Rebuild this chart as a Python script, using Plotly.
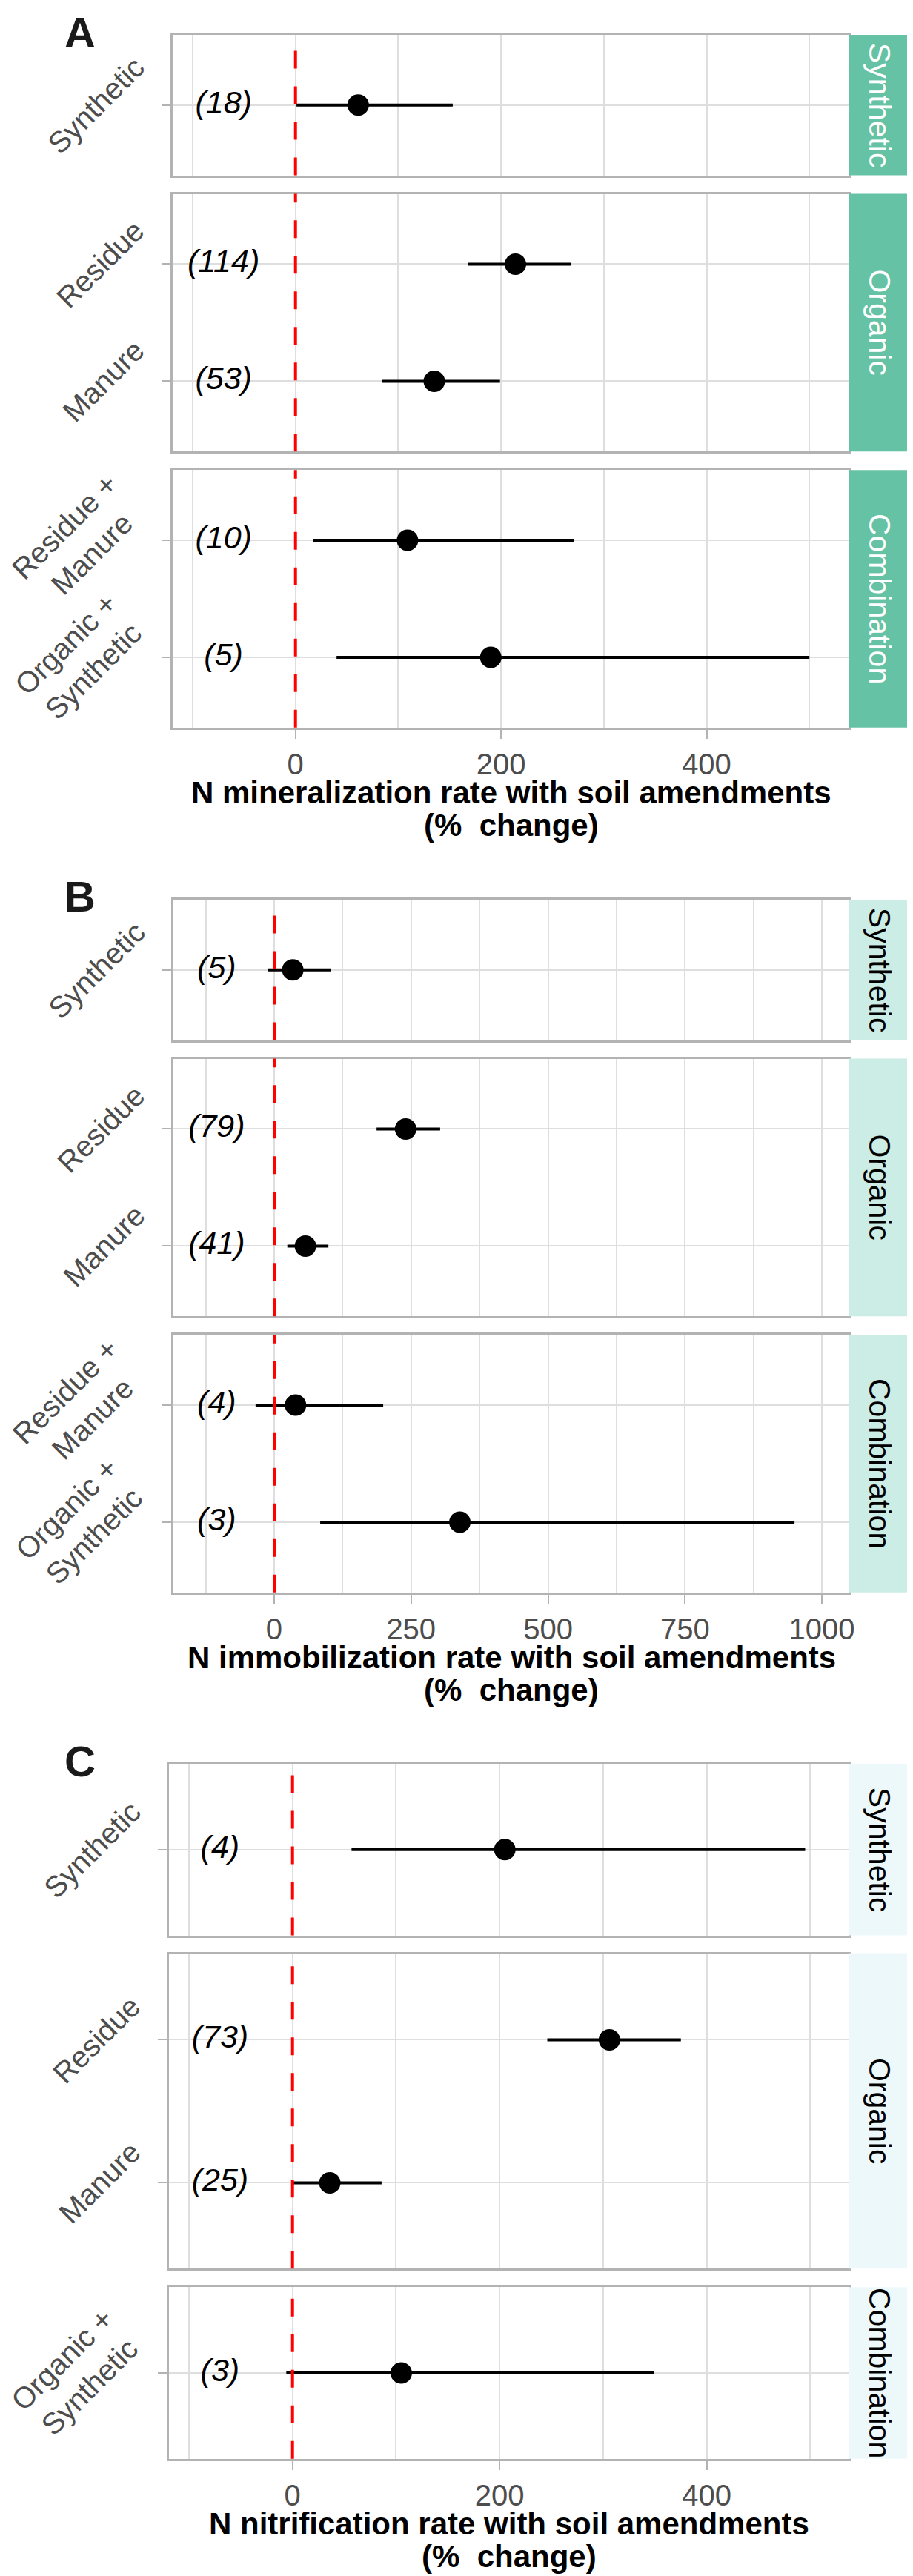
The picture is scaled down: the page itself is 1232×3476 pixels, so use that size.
import plotly.graph_objects as go

# ---- data ----
facet_order = ["Synthetic", "Organic", "Combination"]

# A: N mineralization
min_group = ["Synthetic", "Organic", "Organic", "Combination", "Combination"]
min_type = ["Synthetic", "Residue", "Manure", "Residue +<br>Manure", "Organic +<br>Synthetic"]
min_est = [61, 214, 135, 109, 190]
min_lo = [1, 168, 84, 17, 40]
min_hi = [153, 268, 199, 271, 500]
min_n = [18, 114, 53, 10, 5]

# B: N immobilization
imm_group = ["Synthetic", "Organic", "Organic", "Combination", "Combination"]
imm_type = ["Synthetic", "Residue", "Manure", "Residue +<br>Manure", "Organic +<br>Synthetic"]
imm_est = [34, 240, 57, 39, 339]
imm_lo = [-12, 187, 24, -34, 84]
imm_hi = [104, 303, 99, 199, 950]
imm_n = [5, 79, 41, 4, 3]

# C: N nitrification
nit_group = ["Synthetic", "Organic", "Organic", "Combination"]
nit_type = ["Synthetic", "Residue", "Manure", "Organic +<br>Synthetic"]
nit_est = [205, 306, 36, 105]
nit_lo = [57, 246, 0, -6]
nit_hi = [495, 375, 86, 349]
nit_n = [4, 73, 25, 3]

W, H = 1232, 3476
FONT = "Liberation Sans, Arial, sans-serif"
GRID = "#DEDEDE"
BORDER = "#B3B3B3"

panels = [
    dict(letter="A", title="N mineralization rate with soil amendments",
         group=min_group, typ=min_type, est=min_est, lo=min_lo, hi=min_hi, n=min_n,
         xr=[-119.5, 538.8], dtick=200, label_x=-70, left=225, top=39, unit=158,
         strip="#66C2A4", strip_font="white"),
    dict(letter="B", title="N immobilization rate with soil amendments",
         group=imm_group, typ=imm_type, est=imm_est, lo=imm_lo, hi=imm_hi, n=imm_n,
         xr=[-184, 1050], dtick=250, label_x=-105, left=226, top=1206, unit=158,
         strip="#CCECE6", strip_font="black"),
    dict(letter="C", title="N nitrification rate with soil amendments",
         group=nit_group, typ=nit_type, est=nit_est, lo=nit_lo, hi=nit_hi, n=nit_n,
         xr=[-119.3, 537.6], dtick=200, label_x=-70, left=220, top=2372, unit=193,
         strip="#EDF8FB", strip_font="black"),
]

RIGHT, STRIP_R, GAP = 1138, 1220, 25


def note(x_px, y_px, text, size, color, angle=0):
    return dict(xref="paper", yref="paper", x=x_px / W, y=1 - y_px / H,
                xanchor="center", yanchor="middle", text=text, textangle=angle,
                showarrow=False, font=dict(size=size, color=color, family=FONT))


fig = go.Figure()
shapes, annos = [], []
k = 0
for p in panels:
    y_px = p["top"]
    facets = [g for g in facet_order if g in p["group"]]
    for fi, g in enumerate(facets):
        k += 1
        idx = [i for i, gg in enumerate(p["group"]) if gg == g]
        cats = [p["typ"][i] for i in idx]
        order = cats[::-1]
        h = (len(cats) + 0.2) * p["unit"]
        top_px, bot_px = y_px, y_px + h
        y_px = bot_px + GAP
        last = fi == len(facets) - 1
        xa = "x" if k == 1 else f"x{k}"
        ya = "y" if k == 1 else f"y{k}"
        sfx = "" if k == 1 else str(k)

        fig.add_trace(go.Scatter(
            x=[p["est"][i] for i in idx], y=cats, mode="markers",
            marker=dict(size=29, color="black"),
            error_x=dict(type="data", symmetric=False,
                         array=[p["hi"][i] - p["est"][i] for i in idx],
                         arrayminus=[p["est"][i] - p["lo"][i] for i in idx],
                         thickness=4, width=0, color="black"),
            xaxis=xa, yaxis=ya, showlegend=False, cliponaxis=False))
        fig.add_trace(go.Scatter(
            x=[p["label_x"]] * len(idx), y=cats, mode="text",
            text=[f"<i>({p['n'][i]})</i>" for i in idx],
            textfont=dict(size=43, color="black", family=FONT),
            xaxis=xa, yaxis=ya, showlegend=False, cliponaxis=False))

        fig.layout["xaxis" + sfx] = dict(
            domain=[p["left"] / W, RIGHT / W], anchor=ya, range=p["xr"],
            tick0=0, dtick=p["dtick"], showticklabels=last,
            ticks="outside" if last else "", ticklen=12, tickwidth=2, tickcolor=BORDER,
            tickfont=dict(size=40, color="#4D4D4D", family=FONT),
            showgrid=True, gridcolor=GRID, gridwidth=2, zeroline=False,
            minor=dict(dtick=p["dtick"] / 2, tick0=0, showgrid=True, gridcolor=GRID, gridwidth=1.5),
            showline=True, mirror=True, linecolor=BORDER, linewidth=2.5, automargin=False)
        fig.layout["yaxis" + sfx] = dict(
            domain=[1 - bot_px / H, 1 - top_px / H], anchor=xa, type="category",
            categoryorder="array", categoryarray=order, range=[-0.6, len(cats) - 0.4],
            ticks="outside", ticklen=12, tickwidth=2, tickcolor=BORDER, showticklabels=False,
            showgrid=True, gridcolor=GRID, gridwidth=2, zeroline=False,
            showline=True, mirror=True, linecolor=BORDER, linewidth=2.5, automargin=False)

        # y category labels, rotated 45 degrees and centred on their tick
        for c in cats:
            annos.append(dict(xref="paper", yref=ya, x=(p["left"] - 27) / W, y=order.index(c),
                              xanchor="right", yanchor="middle", text=c, textangle=-45,
                              align="center", showarrow=False,
                              font=dict(size=40, color="#4D4D4D", family=FONT)))

        shapes.append(dict(type="line", xref=xa, yref=ya + " domain", x0=0, x1=0, y0=0, y1=1,
                           line=dict(color="red", width=4, dash="24px,24px"), layer="above"))
        shapes.append(dict(type="rect", xref="paper", yref="paper",
                           x0=RIGHT / W, x1=STRIP_R / W, y0=1 - bot_px / H, y1=1 - top_px / H,
                           fillcolor=p["strip"], line=dict(width=0)))
        annos.append(note((RIGHT + STRIP_R) / 2, (top_px + bot_px) / 2, g, 41,
                          p["strip_font"], angle=90))
        if last:
            cx = (p["left"] + RIGHT) / 2
            annos.append(note(cx, bot_px + 88, f"<b>{p['title']}</b>", 42, "black"))
            annos.append(note(cx, bot_px + 132, "<b>(%\u00a0 change)</b>", 42, "black"))
    annos.append(note(100, p["top"] - 4, f"<b>{p['letter']}</b>", 58, "#1A1A1A"))

fig.update_layout(width=W, height=H, margin=dict(l=0, r=0, t=0, b=0),
                  paper_bgcolor="white", plot_bgcolor="white",
                  shapes=shapes, annotations=annos, font=dict(family=FONT))

fig.write_html("out.html")
